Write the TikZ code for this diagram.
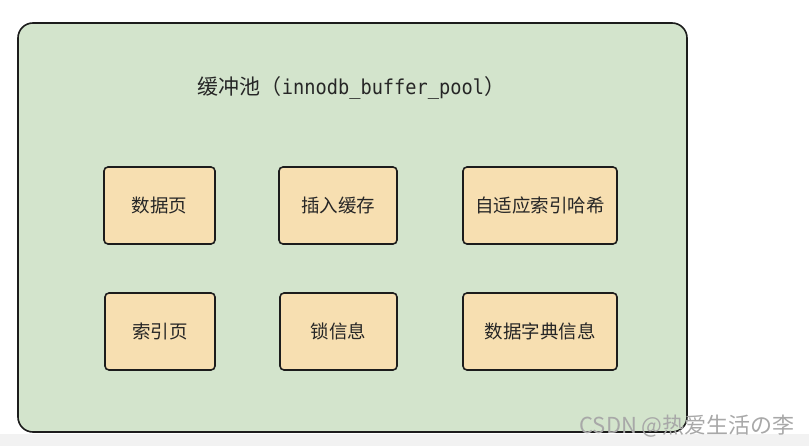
\documentclass[tikz,border=0pt]{standalone}
\usepackage{fontspec}
\setmainfont{Noto Sans CJK SC}
\newfontfamily\cjk{Noto Sans CJK SC}
\newfontfamily\monof[FakeStretch=0.91]{DejaVu Sans Mono}
\definecolor{poolgreen}{HTML}{D3E4CC}
\definecolor{boxfill}{HTML}{F7DFB1}
\definecolor{edgedark}{HTML}{1C1C1C}
\definecolor{stripgray}{HTML}{F2F2F2}
\definecolor{wmgray}{HTML}{A8A8A8}
\begin{document}
\begin{tikzpicture}[x=1pt,y=-1pt,
  pool/.style={draw=edgedark,line width=1.6pt,fill=poolgreen,rounded corners=15pt},
  itembox/.style={draw=edgedark,line width=1.6pt,fill=boxfill,rounded corners=4pt},
  itemtext/.style={font=\cjk\fontsize{18.5}{20}\selectfont,text=black!85}]
\useasboundingbox (0,0) rectangle (809,446);
\fill[white] (0,0) rectangle (809,446);
\fill[stripgray] (0,434) rectangle (809,446);
\draw[pool] (18,23) rectangle (687,432);
\node[text=black!85,inner sep=0pt] (title) at (351.5,88)
  {\cjk\fontsize{21}{23}\selectfont 缓冲池（\monof\fontsize{20.5}{23}\selectfont innodb\_buffer\_pool\cjk\fontsize{21}{23}\selectfont ）};
% row 1
\draw[itembox] (104,167) rectangle (215,244);
\node[itemtext] (b1) at (159.5,205.5) {数据页};
\draw[itembox] (279,167) rectangle (397,244);
\node[itemtext] (b2) at (338,205.5) {插入缓存};
\draw[itembox] (463,167) rectangle (617,244);
\node[itemtext] (b3) at (540,205.5) {自适应索引哈希};
% row 2
\draw[itembox] (105,293) rectangle (215,370);
\node[itemtext] (b4) at (160,331.5) {索引页};
\draw[itembox] (280,293) rectangle (397,370);
\node[itemtext] (b5) at (338.5,331.5) {锁信息};
\draw[itembox] (463,293) rectangle (617,370);
\node[itemtext] (b6) at (540,331.5) {数据字典信息};
% watermark
\node[font=\cjk\fontsize{22}{24}\selectfont,text=wmgray,anchor=east,inner sep=0pt] (wm) at (795,426) {CSDN @热爱生活の李};
\end{tikzpicture}
\end{document}
